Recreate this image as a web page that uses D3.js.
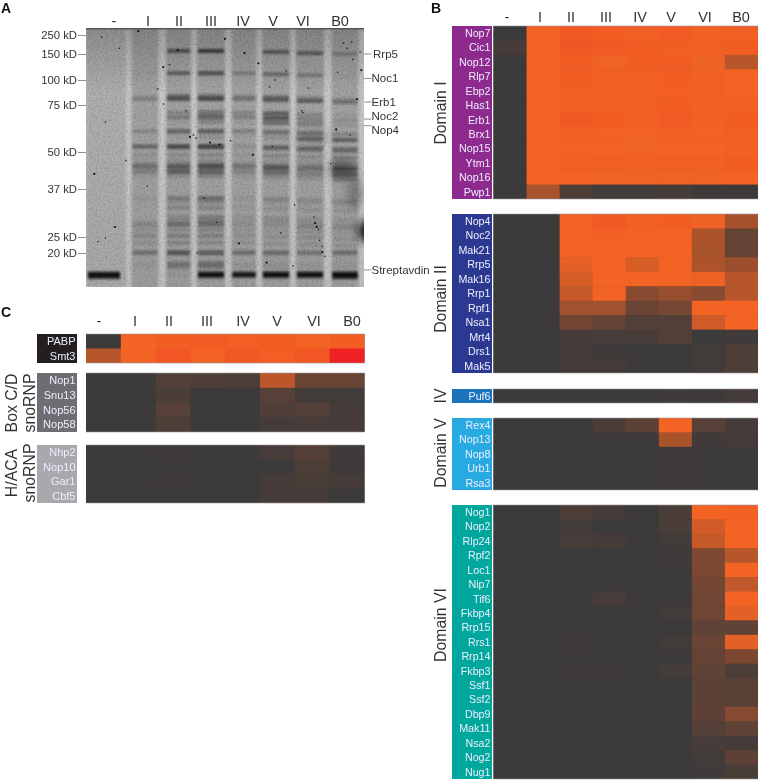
<!DOCTYPE html>
<html>
<head>
<meta charset="utf-8">
<script src="https://cdn.jsdelivr.net/npm/d3@7"></script>
<style>
html, body { margin: 0; padding: 0; background: #fff; }
svg { display: block; filter: blur(0.35px); }
text { font-family: "Liberation Sans", Arial, sans-serif; }
</style>
</head>
<body>
<svg id="fig" width="758" height="781"></svg>
<script>
const lanes = ["-", "I", "II", "III", "IV", "V", "VI", "B0"];

// gel markers (kD) and named bands
const markerKd = [250, 150, 100, 75, 50, 37, 25, 20];
const namedBands = ["Rrp5", "Noc1", "Erb1", "Noc2", "Nop4", "Streptavdin"];
const namedBandKd = [150, 103, 78, 67.5, 64, 14.7];

// gel bands: molecular weight, then intensity per lane
const bandKd = [166, 113, 84, 81, 71, 68.5, 66, 61, 58, 53, 52, 49, 47, 45.5, 44.5, 43, 41.5,
    34.7, 33.8, 32.3, 30, 29, 28.1, 26.8, 25.3, 23.2, 20.2, 19.6, 17, 16.2, 15.4, 13.6, 13.2, 12.9, 12.4];
const bandLevels = [
    [0, 0, .75, .9, 0, .7, .65, .35],
    [0, .08, .6, .75, .35, .5, .4, .1],
    [0, .12, .5, .55, .25, .45, .3, .2],
    [0, .35, .75, .8, .45, .7, .6, .55],
    [0, .02, .3, .55, .3, .7, .3, .1],
    [0, .02, .4, .65, .35, .75, .35, .2],
    [0, 0, .1, .3, .1, .5, .35, .15],
    [0, .3, .65, .7, .35, .55, .4, .3],
    [0, .03, .1, .2, .05, .2, .5, .6],
    [0, .55, .8, .85, .2, .55, .55, .55],
    [0, .1, .3, .3, .05, .25, .3, .3],
    [0, .18, .25, .3, .15, .3, .25, .3],
    [0, .12, .2, .25, .1, .2, .2, .3],
    [0, .4, .55, .6, .35, .5, .4, .5],
    [0, .4, .65, .7, .35, .6, .4, .55],
    [0, .35, .6, .65, .3, .5, .35, .5],
    [0, .12, .25, .3, .12, .25, .2, .35],
    [0, .12, .38, .5, .12, .3, .25, .25],
    [0, .05, .2, .3, .05, .15, .12, .15],
    [0, .02, .28, .3, .1, .18, .18, .15],
    [0, .02, .25, .35, .15, .22, .18, .15],
    [0, .1, .3, .4, .15, .22, .2, .15],
    [0, .3, .5, .5, .2, .2, .32, .28],
    [0, .18, .25, .3, .15, .15, .2, .15],
    [0, .28, .35, .35, .2, .2, .22, .18],
    [0, .2, .3, .25, .15, .18, .18, .15],
    [0, .45, .7, .65, .45, .45, .4, .45],
    [0, .15, .3, .25, .15, .2, .15, .2],
    [0, .05, .3, .35, .08, .1, .08, .08],
    [0, .1, .35, .4, .1, .12, .1, .1],
    [0, .05, .25, .3, .08, .1, .08, .08],
    [.95, 0, .05, .95, .85, 1, .95, 1],
    [1, 0, .08, 1, 1, 1, 1, 1],
    [1, 0, .05, .95, .8, 1, 1, 1],
    [.8, 0, 0, .3, .1, .3, .25, .9]
];

// dark specks on the gel: percent across, kD
const speckPct = [3, 7, 98.6, 27.8, 25.8, 77.6, 37.4, 38.6, 39.6, 82.4, 83.6, 84, 85, 86, 5.6, 18.8, 92.6, 95.6,
    57, 68, 66, 97.5, 95, 67, 44.6, 42.5, 47, 99, 90.6, 7, 10.4, 4.3, 14.4, 65, 74.5, 82, 83, 85, 78, 62,
    28, 30, 48, 52, 36, 50, 12, 22, 60, 72, 94, 90, 88, 75, 55, 40, 70, 33, 80, 96];
const speckKd = [42.3, 24.7, 160, 125, 91, 72, 58, 59, 57.5, 28.5, 26.8, 24, 20.3, 19, 240, 270, 208, 213,
    155, 100, 93, 81, 59, 53, 55, 34.7, 28.7, 119, 115, 66, 27.5, 23.6, 47, 17, 16, 30, 27.5, 22, 71, 132,
    76, 130, 54, 56, 72, 230, 180, 38, 49, 118, 180, 62, 46, 33, 23, 20, 26, 170, 92, 140];

// heatmaps, values 0 (none) to 1 (full), above 1 runs toward red
const domainI = ["Nop7", "Cic1", "Nop12", "Rlp7", "Ebp2", "Has1", "Erb1", "Brx1", "Nop15", "Ytm1", "Nop16", "Pwp1"];
const domainIValues = [
    [0, 1, 1.08, 1.05, 1.03, 1.06, 1.02, 1.03],
    [.06, 1, 1.09, 1.07, 1.05, 1.03, 1.03, 1.05],
    [0, 1, 1.05, .99, 1.05, 1.05, .97, .68],
    [0, 1, 1.05, 1.02, 1.02, 1.05, 1.02, 1],
    [0, 1, 1.03, 1.02, 1.02, 1.04, 1.02, 1],
    [0, 1, 1.03, 1.02, 1.03, 1.05, 1.02, 1.02],
    [0, 1, 1.09, 1.05, 1.03, 1.06, 1.02, 1.05],
    [0, 1, 1.02, 1.01, 1, 1.02, 1.01, 1.03],
    [0, 1, 1.01, 1, .99, 1, 1, 1.02],
    [0, 1, 1.02, 1.03, 1.02, 1.03, 1.02, 1.05],
    [0, 1, 1, .99, .99, .99, .99, 1],
    [0, .6, .1, .03, .03, .05, .01, .01]
];
const domainII = ["Nop4", "Noc2", "Mak21", "Rrp5", "Mak16", "Rrp1", "Rpf1", "Nsa1", "Mrt4", "Drs1", "Mak5"];
const domainIIValues = [
    [0, 0, 1, 1.07, 1.02, 1.05, .98, .58],
    [0, 0, 1, 1.02, 1, 1, .62, .22],
    [0, 0, 1, 1, 1, 1, .6, .22],
    [0, 0, .93, 1, .85, 1, .62, .52],
    [0, 0, .85, 1, 1, 1, .97, .68],
    [0, 0, .75, 1, .42, .5, .42, .68],
    [0, 0, .55, .55, .25, .32, 1, 1],
    [0, 0, .3, .22, .12, .12, .8, 1],
    [0, 0, .05, .06, .06, .12, 0, .02],
    [0, 0, .05, .02, 0, 0, .03, .1],
    [0, 0, .05, .05, 0, 0, .03, .1]
];
const domainIV = ["Puf6"];
const domainIVValues = [[0, 0, 0, 0, 0, .02, .01, .04]];
const domainV = ["Rex4", "Nop13", "Nop8", "Urb1", "Rsa3"];
const domainVValues = [
    [0, 0, 0, .08, .17, 1, .15, .05],
    [0, 0, 0, 0, 0, .6, .02, .05],
    [0, 0, 0, 0, 0, .01, 0, 0],
    [0, 0, 0, 0, 0, .01, 0, 0],
    [0, 0, 0, 0, 0, .01, 0, 0]
];
const domainVI = ["Nog1", "Nop2", "Rlp24", "Rpf2", "Loc1", "Nip7", "Tif6", "Fkbp4", "Rrp15", "Rrs1", "Rrp14", "Fkbp3",
    "Ssf1", "Ssf2", "Dbp9", "Mak11", "Nsa2", "Nog2", "Nug1"];
const domainVIValues = [
    [0, 0, .1, .05, 0, .08, 1, 1.02],
    [0, 0, .03, 0, 0, .08, .82, 1],
    [0, 0, .06, .05, 0, .03, .75, 1],
    [0, 0, 0, 0, 0, .02, .35, .68],
    [0, 0, 0, 0, 0, 0, .35, 1],
    [0, 0, 0, 0, 0, 0, .3, .72],
    [0, 0, 0, .06, 0, 0, .28, 1],
    [0, 0, 0, 0, 0, .03, .28, .93],
    [0, 0, 0, 0, 0, 0, .2, .2],
    [0, 0, .02, 0, 0, .03, .25, .92],
    [0, 0, 0, 0, 0, 0, .22, .35],
    [0, 0, .01, .01, 0, .04, .2, .1],
    [0, 0, 0, 0, 0, 0, .17, .16],
    [0, 0, 0, 0, 0, 0, .17, .16],
    [0, 0, 0, 0, 0, 0, .18, .4],
    [0, 0, 0, 0, 0, 0, .14, .2],
    [0, 0, 0, 0, 0, 0, .06, .05],
    [0, 0, 0, 0, 0, 0, .03, .18],
    [0, 0, 0, 0, 0, 0, .02, .07]
];
const controls = ["PABP", "Smt3"];
const controlsValues = [
    [0, 1, 1.05, 1.06, 1.04, 1.05, 1, 1.05],
    [.68, 1, 1.1, 1, 1.08, 1.04, 1.1, 1.5]
];
const boxCD = ["Nop1", "Snu13", "Nop56", "Nop58"];
const boxCDValues = [
    [0, 0, .12, .11, .09, .7, .25, .25],
    [0, 0, .08, 0, 0, .15, .03, .03],
    [0, 0, .15, 0, 0, .11, .12, .05],
    [0, 0, .1, 0, 0, .05, .06, .06]
];
const hACA = ["Nhp2", "Nop10", "Gar1", "Cbf5"];
const hACAValues = [
    [0, 0, .01, 0, 0, .06, .13, .02],
    [0, 0, 0, 0, 0, 0, .1, .01],
    [0, 0, .01, 0, 0, .05, .07, .05],
    [0, 0, 0, 0, 0, .05, .05, 0]
];

const svg = d3.select("#fig");
const color = d3.scaleLinear().domain([0, 1, 1.5]).range(["#3c3a3a", "#f26324", "#ee2224"]).clamp(true);

function headers(xs, baseline) {
    svg.append("g").selectAll("text").data(lanes).join("text")
        .attr("x", (d, i) => xs[i]).attr("y", baseline)
        .attr("text-anchor", "middle").attr("font-size", 14.5).attr("fill", "#333")
        .text(d => d);
}

function panelLetter(t, x, y) {
    svg.append("text").attr("x", x).attr("y", y).attr("font-size", 14)
        .attr("font-weight", "bold").attr("fill", "#111").text(t);
}

function sideLabel(t, x, cy) {
    svg.append("text").attr("transform", `translate(${x},${cy}) rotate(-90)`)
        .attr("text-anchor", "middle").attr("font-size", 15.8).attr("fill", "#333").text(t);
}

function heatBlock(names, values, opts) {
    const x = d3.scaleBand().domain(lanes).range(opts.x);
    const y = d3.scaleBand().domain(names).range(opts.y);
    const g = svg.append("g");
    g.append("rect").attr("x", opts.labelX[0]).attr("y", opts.y[0])
        .attr("width", opts.labelX[1] - opts.labelX[0]).attr("height", opts.y[1] - opts.y[0])
        .attr("fill", opts.fill);
    g.selectAll("text").data(names).join("text")
        .attr("x", opts.labelX[1] - 1.5).attr("y", d => y(d) + y.bandwidth() / 2 + 3.8)
        .attr("text-anchor", "end").attr("font-size", opts.fontSize || 10.7).attr("fill", "#eef")
        .text(d => d);
    // dark underlay so the cell seams do not show through
    g.append("rect").attr("x", opts.x[0]).attr("y", opts.y[0])
        .attr("width", opts.x[1] - opts.x[0]).attr("height", opts.y[1] - opts.y[0])
        .attr("fill", color(0));
    names.forEach((name, r) => {
        g.append("g").selectAll("rect").data(lanes).join("rect")
            .attr("x", d => x(d)).attr("y", y(name))
            .attr("width", (d, i) => x.bandwidth() + (i < lanes.length - 1 ? .5 : 0))
            .attr("height", y.bandwidth() + (r < names.length - 1 ? .5 : 0))
            .attr("fill", (d, c) => color(values[r][c]));
    });
    g.append("path").attr("d", `M${opts.x[0]},${opts.y[0]}H${opts.x[1]}M${opts.x[0]},${opts.y[1]}H${opts.x[1]}`)
        .attr("stroke", "#999").attr("stroke-width", .6).attr("fill", "none");
}

function drawGel() {
    const left = 86, right = 364, top = 28, bottom = 287;
    const yKd = d3.scaleLinear().domain(markerKd).range([35, 54, 80, 105, 152, 189, 237, 253]);
    const xPct = d3.scaleLinear().domain([0, 100]).range([left, right]);
    const laneX = d3.scaleOrdinal(lanes, [104, 145, 178.5, 211, 244, 276, 310, 345]);
    const laneW = d3.scaleOrdinal(lanes, [34, 27, 25, 28, 25, 28, 28, 27]);
    const laneDrift = d3.scaleOrdinal(lanes, [0, 0, 0, 0, 0, 1, 2, 3]);

    const defs = svg.append("defs");
    defs.append("clipPath").attr("id", "gelClip").append("rect")
        .attr("x", left).attr("y", top).attr("width", right - left).attr("height", bottom - top);
    defs.append("filter").attr("id", "soft").attr("x", "-5%").attr("width", "110%")
        .append("feGaussianBlur").attr("stdDeviation", 1.6);
    defs.append("filter").attr("id", "band").attr("x", "-5%").attr("width", "110%").attr("y", "-100%").attr("height", "300%")
        .append("feGaussianBlur").attr("stdDeviation", "1.2 1.05");
    defs.append("filter").attr("id", "blob").attr("x", "-50%").attr("width", "200%").attr("y", "-50%").attr("height", "200%")
        .append("feGaussianBlur").attr("stdDeviation", 5);
    const grain = defs.append("filter").attr("id", "grain");
    grain.append("feTurbulence").attr("type", "fractalNoise").attr("baseFrequency", .5).attr("numOctaves", 2).attr("seed", 4);
    grain.append("feColorMatrix").attr("values", "0 0 0 0 0  0 0 0 0 0  0 0 0 0 0  1.6 0 0 0 -.62");
    const shade = defs.append("linearGradient").attr("id", "topShade").attr("x1", 0).attr("x2", 0).attr("y1", 0).attr("y2", 1);
    shade.append("stop").attr("offset", 0).attr("stop-color", "#000").attr("stop-opacity", .22);
    shade.append("stop").attr("offset", .25).attr("stop-color", "#000").attr("stop-opacity", .03);
    shade.append("stop").attr("offset", 1).attr("stop-color", "#000").attr("stop-opacity", .07);

    const gel = svg.append("g").attr("clip-path", "url(#gelClip)");
    gel.append("rect").attr("x", left).attr("y", top).attr("width", right - left).attr("height", bottom - top).attr("fill", "#d0d0d0");

    // lane tracks
    gel.append("g").attr("filter", "url(#soft)").selectAll("rect").data(lanes.slice(1)).join("rect")
        .attr("x", d => laneX(d) - laneW(d) / 2).attr("y", top - 5)
        .attr("width", laneW).attr("height", bottom - top + 10)
        .attr("fill", "#a9a9a9");
    gel.append("rect").attr("x", left).attr("y", top).attr("width", 40).attr("height", bottom - top)
        .attr("fill", "#b6b6b6").attr("filter", "url(#soft)");

    // bands
    const bands = gel.append("g").attr("filter", "url(#band)");
    bandKd.forEach((kd, b) => {
        bands.append("g").selectAll("rect").data(lanes).join("rect")
            .attr("x", d => laneX(d) - laneW(d) / 2 + 1).attr("width", d => laneW(d) - 2)
            .attr("y", d => yKd(kd) - 2 + laneDrift(d) * (kd > 22 ? 1 : 0)).attr("height", 4)
            .attr("fill", "#101010").attr("opacity", (d, i) => Math.pow(bandLevels[b][i], 1.3) * .78);
    });

    // smears near the right edge
    const smears = gel.append("g").attr("filter", "url(#blob)");
    smears.append("ellipse").attr("cx", xPct(92)).attr("cy", yKd(44)).attr("rx", 14).attr("ry", 10).attr("fill", "#000").attr("opacity", .3);
    smears.append("ellipse").attr("cx", xPct(97)).attr("cy", yKd(36)).attr("rx", 8).attr("ry", 16).attr("fill", "#000").attr("opacity", .25);
    smears.append("ellipse").attr("cx", xPct(82)).attr("cy", yKd(58)).attr("rx", 18).attr("ry", 7).attr("fill", "#000").attr("opacity", .15);
    smears.append("ellipse").attr("cx", xPct(101)).attr("cy", yKd(26.5)).attr("rx", 8).attr("ry", 11).attr("fill", "#000").attr("opacity", 1);

    gel.append("rect").attr("x", left).attr("y", top).attr("width", right - left).attr("height", bottom - top)
        .attr("fill", "url(#topShade)");
    gel.append("rect").attr("x", left).attr("y", top).attr("width", right - left).attr("height", bottom - top)
        .attr("filter", "url(#grain)").attr("opacity", .2);
    gel.append("rect").attr("x", left).attr("y", top).attr("width", right - left).attr("height", 1.5).attr("fill", "#555");

    gel.append("g").selectAll("circle").data(speckPct).join("circle")
        .attr("cx", d => xPct(d)).attr("cy", (d, i) => yKd(speckKd[i]))
        .attr("r", (d, i) => i % 3 == 0 ? 1.1 : .75).attr("fill", "#111");

    // marker axis
    const axis = d3.axisLeft(yKd).tickValues(markerKd).tickFormat(d => d + " kD").tickSize(8).tickPadding(1);
    const ax = svg.append("g").attr("transform", `translate(${left},0)`).call(axis);
    ax.select(".domain").remove();
    ax.selectAll("line").attr("stroke", "#777").attr("stroke-width", .8);
    ax.selectAll("text").attr("font-size", 11.3).attr("fill", "#333")
        .attr("font-family", '"Liberation Sans", Arial, sans-serif');

    // protein labels on the right, Noc2 and Nop4 fanned out
    const fan = d3.scaleOrdinal(namedBands, [0, 0, 0, -3, 4, 0]);
    const g = svg.append("g");
    g.selectAll("line").data(namedBands).join("line")
        .attr("x1", right).attr("x2", right + 7.5)
        .attr("y1", (d, i) => yKd(namedBandKd[i])).attr("y2", (d, i) => yKd(namedBandKd[i]))
        .attr("stroke", "#777").attr("stroke-width", .8);
    g.selectAll("text").data(namedBands).join("text")
        .attr("x", d => d == "Rrp5" ? right + 9 : right + 7.5)
        .attr("y", (d, i) => yKd(namedBandKd[i]) + 4 + fan(d))
        .attr("font-size", 11.5).attr("fill", "#333").text(d => d);
}

panelLetter("A", 1, 13);
panelLetter("B", 431, 13);
panelLetter("C", 1, 317);

headers([114, 148, 179, 211, 243, 273, 303, 340], 26);
drawGel();

// panel B
headers([507, 540, 571, 606, 640, 671, 705, 741], 22);
const bX = [493.5, 758], bLabel = [452, 492];
heatBlock(domainI, domainIValues, {x: bX, y: [26, 199], labelX: bLabel, fill: "#8e2a8e"});
heatBlock(domainII, domainIIValues, {x: bX, y: [214, 373], labelX: bLabel, fill: "#2b3990"});
heatBlock(domainIV, domainIVValues, {x: bX, y: [389, 403], labelX: bLabel, fill: "#1c75bc"});
heatBlock(domainV, domainVValues, {x: bX, y: [418, 490], labelX: bLabel, fill: "#27aae1"});
heatBlock(domainVI, domainVIValues, {x: bX, y: [505, 779], labelX: bLabel, fill: "#00a79d"});
sideLabel("Domain I", 446, 113);
sideLabel("Domain II", 446, 299);
sideLabel("IV", 446, 396);
sideLabel("Domain V", 446, 453);
sideLabel("Domain VI", 446, 625);

// panel C
headers([99, 135, 169, 207, 243, 277, 314, 352], 326);
const cX = [86, 364.5], cLabel = [37, 77];
heatBlock(controls, controlsValues, {x: cX, y: [334, 363], labelX: cLabel, fill: "#231f20", fontSize: 11});
heatBlock(boxCD, boxCDValues, {x: cX, y: [373, 432], labelX: cLabel, fill: "#6d6e71", fontSize: 11});
heatBlock(hACA, hACAValues, {x: cX, y: [445, 503], labelX: cLabel, fill: "#a7a9ac", fontSize: 11});
sideLabel("Box C/D", 17, 403);
sideLabel("snoRNP", 35, 403);
sideLabel("H/ACA", 17, 473);
sideLabel("snoRNP", 35, 473);
</script>
</body>
</html>
